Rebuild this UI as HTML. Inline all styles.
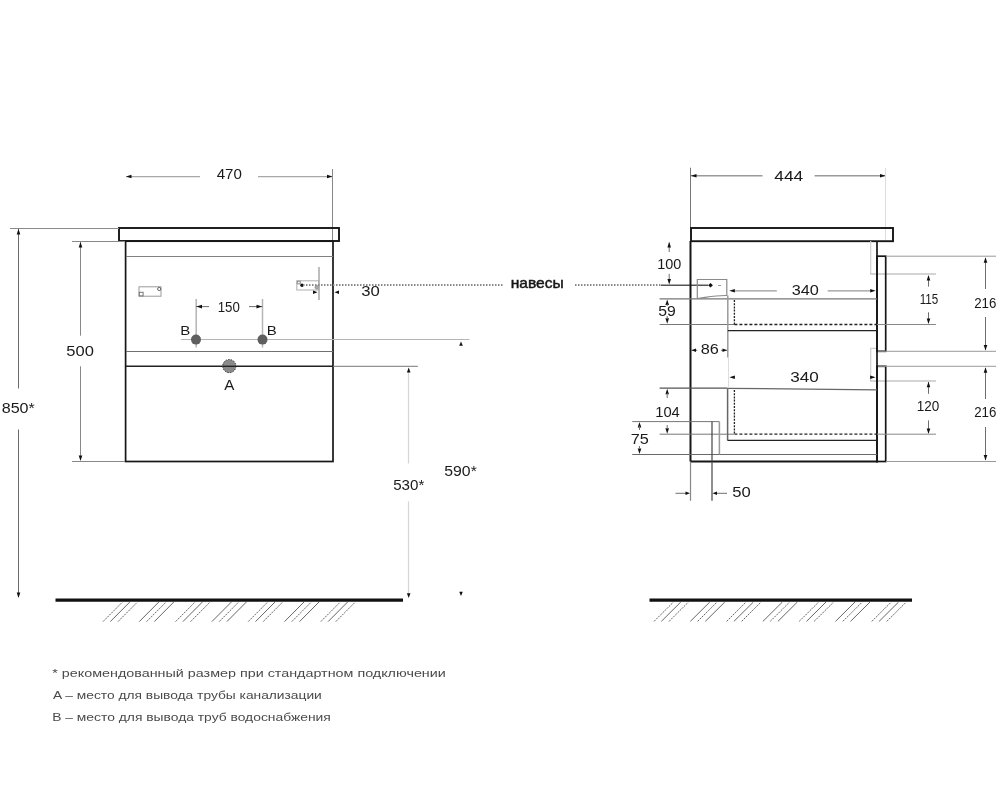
<!DOCTYPE html>
<html><head><meta charset="utf-8"><style>
html,body{margin:0;padding:0;background:#fff;width:1000px;height:793px;overflow:hidden}
svg{display:block;font-family:"Liberation Sans",sans-serif;will-change:transform}
</style></head><body>
<svg width="1000" height="793" viewBox="0 0 1000 793">
<rect x="0" y="0" width="1000" height="793" fill="#fff"/>
<line x1="126" y1="176.6" x2="200" y2="176.6" stroke="#a8a8a8" stroke-width="1.4" />
<line x1="258" y1="176.6" x2="332" y2="176.6" stroke="#a8a8a8" stroke-width="1.4" />
<polygon points="126.00,176.50 131.50,174.70 131.50,178.30" fill="#111"/>
<polygon points="332.50,176.50 327.00,174.70 327.00,178.30" fill="#111"/>
<line x1="332.5" y1="169" x2="332.5" y2="241" stroke="#888" stroke-width="1" />
<rect x="119" y="228" width="220" height="13" stroke="#161616" stroke-width="1.9" fill="none" />
<rect x="125.6" y="241.2" width="207.4" height="220.3" stroke="#161616" stroke-width="1.7" fill="none" />
<line x1="126" y1="256.5" x2="333" y2="256.5" stroke="#808080" stroke-width="1" />
<line x1="126" y1="351.5" x2="333" y2="351.5" stroke="#707070" stroke-width="1" />
<line x1="126" y1="366.3" x2="333" y2="366.3" stroke="#222" stroke-width="1.4" />
<line x1="10" y1="228.5" x2="119" y2="228.5" stroke="#8a8a8a" stroke-width="1" />
<line x1="18.5" y1="229" x2="18.5" y2="388.5" stroke="#6a6a6a" stroke-width="1" />
<line x1="18.5" y1="429.5" x2="18.5" y2="597" stroke="#6a6a6a" stroke-width="1" />
<polygon points="18.50,229.00 16.70,234.50 20.30,234.50" fill="#111"/>
<polygon points="18.50,598.00 16.70,592.50 20.30,592.50" fill="#111"/>
<line x1="72" y1="241.5" x2="125" y2="241.5" stroke="#888" stroke-width="1" />
<line x1="72" y1="461.5" x2="125" y2="461.5" stroke="#888" stroke-width="1" />
<line x1="80.5" y1="242" x2="80.5" y2="335.7" stroke="#888" stroke-width="1" />
<line x1="80.5" y1="366.3" x2="80.5" y2="460" stroke="#888" stroke-width="1" />
<polygon points="80.50,242.00 78.70,247.50 82.30,247.50" fill="#111"/>
<polygon points="80.50,461.00 78.70,455.50 82.30,455.50" fill="#111"/>
<rect x="139" y="286.8" width="22" height="9.4" stroke="#9a9a9a" stroke-width="1" fill="none" />
<circle cx="159.2" cy="289" r="1.6" fill="none" stroke="#666" stroke-width="1" />
<rect x="139.3" y="292.3" width="3.8" height="3.6" stroke="#777" stroke-width="1" fill="none" />
<rect x="296.8" y="280.8" width="22" height="9.2" stroke="#b0b0b0" stroke-width="1" fill="none" />
<rect x="297.3" y="281.3" width="3" height="2.5" stroke="#999" stroke-width="1.2" fill="none" />
<circle cx="302" cy="285.3" r="1.7" fill="#111" stroke="none" stroke-width="1" />
<circle cx="316.8" cy="287.3" r="1.8" fill="#aaa" stroke="#888" stroke-width="0.8" />
<line x1="319" y1="267" x2="319" y2="300" stroke="#a8a8a8" stroke-width="1.5" />
<line x1="303" y1="285" x2="503" y2="285" stroke="#8a8a8a" stroke-width="1.8" stroke-dasharray="1.5 1.5"/>
<line x1="575" y1="285" x2="661" y2="285" stroke="#8a8a8a" stroke-width="1.8" stroke-dasharray="1.5 1.5"/>
<line x1="661" y1="285.2" x2="708" y2="285.2" stroke="#555" stroke-width="1.4" />
<polygon points="317.50,292.20 313.00,290.50 313.00,293.90" fill="#111"/>
<polygon points="334.50,292.20 339.00,290.50 339.00,293.90" fill="#111"/>
<line x1="196.2" y1="299" x2="196.2" y2="347.5" stroke="#b4b4b4" stroke-width="1.5" />
<line x1="262.5" y1="299" x2="262.5" y2="347.5" stroke="#b4b4b4" stroke-width="1.5" />
<line x1="196" y1="306.6" x2="209" y2="306.6" stroke="#6e6e6e" stroke-width="1" />
<line x1="249" y1="306.6" x2="262.5" y2="306.6" stroke="#6e6e6e" stroke-width="1" />
<polygon points="196.50,306.60 202.00,304.80 202.00,308.40" fill="#111"/>
<polygon points="262.00,306.60 256.50,304.80 256.50,308.40" fill="#111"/>
<line x1="181" y1="339.5" x2="469.4" y2="339.5" stroke="#b5b5b5" stroke-width="1" />
<circle cx="196" cy="339.6" r="5" fill="#5f5f5f" stroke="none" stroke-width="1" />
<circle cx="262.5" cy="339.6" r="5" fill="#5f5f5f" stroke="none" stroke-width="1" />
<circle cx="229.3" cy="366.1" r="6.6" fill="#8a8a8a" stroke="#333" stroke-width="1" stroke-dasharray="1.5 1.2"/>
<line x1="222.7" y1="366.3" x2="235.9" y2="366.3" stroke="#222" stroke-width="1.4" />
<line x1="333" y1="366.3" x2="417.8" y2="366.3" stroke="#777" stroke-width="1" />
<line x1="408.5" y1="372" x2="408.5" y2="463.5" stroke="#d5d5d5" stroke-width="1.2" />
<line x1="408.5" y1="501.5" x2="408.5" y2="595" stroke="#d5d5d5" stroke-width="1.2" />
<polygon points="408.70,367.60 406.90,372.40 410.50,372.40" fill="#111"/>
<polygon points="408.70,598.00 406.90,593.20 410.50,593.20" fill="#111"/>
<polygon points="461.00,341.50 459.20,345.80 462.80,345.80" fill="#111"/>
<polygon points="461.00,596.00 459.20,591.70 462.80,591.70" fill="#111"/>
<line x1="55.5" y1="600.1" x2="403" y2="600.1" stroke="#111" stroke-width="3.4" />
<line x1="103.0" y1="621.6" x2="122.5" y2="602" stroke="#4a4a4a" stroke-width="0.85" stroke-dasharray="2 1"/>
<line x1="110.3" y1="621.6" x2="129.8" y2="602" stroke="#4a4a4a" stroke-width="0.85" />
<line x1="118.0" y1="621.6" x2="137.5" y2="602" stroke="#4a4a4a" stroke-width="0.85" stroke-dasharray="2 1"/>
<line x1="139.3" y1="621.6" x2="158.8" y2="602" stroke="#4a4a4a" stroke-width="0.85" />
<line x1="146.6" y1="621.6" x2="166.1" y2="602" stroke="#4a4a4a" stroke-width="0.85" stroke-dasharray="2 1"/>
<line x1="154.3" y1="621.6" x2="173.8" y2="602" stroke="#4a4a4a" stroke-width="0.85" />
<line x1="175.6" y1="621.6" x2="195.1" y2="602" stroke="#4a4a4a" stroke-width="0.85" stroke-dasharray="2 1"/>
<line x1="182.9" y1="621.6" x2="202.4" y2="602" stroke="#4a4a4a" stroke-width="0.85" />
<line x1="190.6" y1="621.6" x2="210.1" y2="602" stroke="#4a4a4a" stroke-width="0.85" stroke-dasharray="2 1"/>
<line x1="211.9" y1="621.6" x2="231.4" y2="602" stroke="#4a4a4a" stroke-width="0.85" />
<line x1="219.2" y1="621.6" x2="238.7" y2="602" stroke="#4a4a4a" stroke-width="0.85" stroke-dasharray="2 1"/>
<line x1="226.9" y1="621.6" x2="246.4" y2="602" stroke="#4a4a4a" stroke-width="0.85" />
<line x1="248.2" y1="621.6" x2="267.7" y2="602" stroke="#4a4a4a" stroke-width="0.85" stroke-dasharray="2 1"/>
<line x1="255.5" y1="621.6" x2="275.0" y2="602" stroke="#4a4a4a" stroke-width="0.85" />
<line x1="263.2" y1="621.6" x2="282.7" y2="602" stroke="#4a4a4a" stroke-width="0.85" stroke-dasharray="2 1"/>
<line x1="284.5" y1="621.6" x2="304.0" y2="602" stroke="#4a4a4a" stroke-width="0.85" />
<line x1="291.8" y1="621.6" x2="311.3" y2="602" stroke="#4a4a4a" stroke-width="0.85" stroke-dasharray="2 1"/>
<line x1="299.5" y1="621.6" x2="319.0" y2="602" stroke="#4a4a4a" stroke-width="0.85" />
<line x1="320.8" y1="621.6" x2="340.3" y2="602" stroke="#4a4a4a" stroke-width="0.85" stroke-dasharray="2 1"/>
<line x1="328.1" y1="621.6" x2="347.6" y2="602" stroke="#4a4a4a" stroke-width="0.85" />
<line x1="335.8" y1="621.6" x2="355.3" y2="602" stroke="#4a4a4a" stroke-width="0.85" stroke-dasharray="2 1"/>
<line x1="690.6" y1="175.8" x2="762.5" y2="175.8" stroke="#9a9a9a" stroke-width="1.5" />
<line x1="814.6" y1="175.8" x2="885.7" y2="175.8" stroke="#9a9a9a" stroke-width="1.5" />
<polygon points="691.00,175.80 696.50,174.00 696.50,177.60" fill="#111"/>
<polygon points="885.50,175.80 880.00,174.00 880.00,177.60" fill="#111"/>
<line x1="690.5" y1="167.7" x2="690.5" y2="228" stroke="#777" stroke-width="1" />
<line x1="885.5" y1="167.7" x2="885.5" y2="241" stroke="#ddd" stroke-width="1" />
<rect x="691" y="228" width="202" height="13.2" stroke="#161616" stroke-width="1.9" fill="none" />
<line x1="870.7" y1="241" x2="870.7" y2="274" stroke="#d0d0d0" stroke-width="1.2" />
<line x1="870.2" y1="274" x2="936" y2="274" stroke="#aaa" stroke-width="1.2" />
<polyline points="877,348.4 870.7,348.4 870.7,381" fill="none" stroke="#d0d0d0" stroke-width="1.2"/>
<line x1="870.2" y1="381" x2="936" y2="381" stroke="#aaa" stroke-width="1.2" />
<line x1="690.5" y1="241" x2="690.5" y2="461.5" stroke="#161616" stroke-width="2" />
<line x1="877" y1="241" x2="877" y2="462.3" stroke="#161616" stroke-width="1.7" />
<line x1="690.5" y1="461.5" x2="878" y2="461.5" stroke="#161616" stroke-width="1.8" />
<rect x="877" y="256.2" width="8.7" height="95.1" stroke="#161616" stroke-width="1.7" fill="none" />
<rect x="877" y="366.3" width="8.7" height="95.2" stroke="#161616" stroke-width="1.7" fill="none" />
<line x1="886" y1="256.2" x2="996" y2="256.2" stroke="#999" stroke-width="1" />
<line x1="878" y1="351.3" x2="996" y2="351.3" stroke="#999" stroke-width="1" />
<line x1="878" y1="366.3" x2="996" y2="366.3" stroke="#999" stroke-width="1" />
<line x1="886" y1="461.5" x2="996" y2="461.5" stroke="#999" stroke-width="1" />
<line x1="985.5" y1="258" x2="985.5" y2="289" stroke="#6e6e6e" stroke-width="1" />
<line x1="985.5" y1="317" x2="985.5" y2="350" stroke="#6e6e6e" stroke-width="1" />
<polygon points="985.50,257.20 983.70,262.70 987.30,262.70" fill="#111"/>
<polygon points="985.50,350.50 983.70,345.00 987.30,345.00" fill="#111"/>
<line x1="985.5" y1="368" x2="985.5" y2="399" stroke="#6e6e6e" stroke-width="1" />
<line x1="985.5" y1="427" x2="985.5" y2="460" stroke="#6e6e6e" stroke-width="1" />
<polygon points="985.50,367.30 983.70,372.80 987.30,372.80" fill="#111"/>
<polygon points="985.50,460.50 983.70,455.00 987.30,455.00" fill="#111"/>
<line x1="928.5" y1="276" x2="928.5" y2="286.6" stroke="#6e6e6e" stroke-width="1" />
<line x1="928.5" y1="312.3" x2="928.5" y2="323" stroke="#6e6e6e" stroke-width="1" />
<polygon points="928.50,275.00 926.70,280.50 930.30,280.50" fill="#111"/>
<polygon points="928.50,324.00 926.70,318.50 930.30,318.50" fill="#111"/>
<line x1="928.5" y1="382" x2="928.5" y2="393.8" stroke="#6e6e6e" stroke-width="1" />
<line x1="928.5" y1="420.4" x2="928.5" y2="433" stroke="#6e6e6e" stroke-width="1" />
<polygon points="928.50,381.80 926.70,387.30 930.30,387.30" fill="#111"/>
<polygon points="928.50,434.00 926.70,428.50 930.30,428.50" fill="#111"/>
<line x1="659.6" y1="298.8" x2="877" y2="298.8" stroke="#777" stroke-width="1.2" />
<line x1="659.6" y1="324.5" x2="734" y2="324.5" stroke="#777" stroke-width="1" />
<line x1="877" y1="324.5" x2="936" y2="324.5" stroke="#888" stroke-width="1" />
<line x1="659.6" y1="388.2" x2="727.6" y2="388.2" stroke="#555" stroke-width="1.2" />
<path d="M727.6 388.3 C 780 388.6, 830 389.4, 877 389.8" fill="none" stroke="#666" stroke-width="1.2"/>
<line x1="659.6" y1="434.2" x2="734" y2="434.2" stroke="#777" stroke-width="1" />
<line x1="877" y1="434.2" x2="936" y2="434.2" stroke="#888" stroke-width="1" />
<line x1="669.2" y1="252" x2="669.2" y2="242.5" stroke="#6e6e6e" stroke-width="1" />
<polygon points="669.20,242.00 667.40,247.50 671.00,247.50" fill="#111"/>
<line x1="669.2" y1="273.8" x2="669.2" y2="280" stroke="#6e6e6e" stroke-width="1" />
<polygon points="669.20,284.60 667.40,279.10 671.00,279.10" fill="#111"/>
<polygon points="667.20,299.50 665.40,305.00 669.00,305.00" fill="#111"/>
<line x1="667.2" y1="304" x2="667.2" y2="306" stroke="#6e6e6e" stroke-width="1" />
<polygon points="667.20,323.80 665.40,318.30 669.00,318.30" fill="#111"/>
<line x1="667.2" y1="316" x2="667.2" y2="319" stroke="#6e6e6e" stroke-width="1" />
<path d="M697.3 298.5 L697.3 279.5 L726.8 279.5 L726.8 295.5 C 715 295.2, 706 297.5, 697.3 298.5" fill="none" stroke="#8a8a8a" stroke-width="1.2"/>
<polygon points="710.5,282.9 712.9,285.25 710.5,287.6 708.1,285.25" fill="#111"/>
<line x1="718" y1="285.5" x2="721" y2="285.5" stroke="#999" stroke-width="1" />
<line x1="727.8" y1="295.5" x2="727.8" y2="357.5" stroke="#9a9a9a" stroke-width="1.5" />
<line x1="727.8" y1="330.6" x2="877" y2="330.6" stroke="#222" stroke-width="1.4" />
<line x1="734.4" y1="300" x2="734.4" y2="324.5" stroke="#222" stroke-width="1.3" stroke-dasharray="2 1.2"/>
<line x1="734.4" y1="324.5" x2="877" y2="324.5" stroke="#222" stroke-width="1.3" stroke-dasharray="3 2"/>
<line x1="734" y1="290.8" x2="776.8" y2="290.8" stroke="#999" stroke-width="1.3" />
<line x1="827.7" y1="290.8" x2="871" y2="290.8" stroke="#999" stroke-width="1.3" />
<polygon points="729.30,290.80 734.80,289.00 734.80,292.60" fill="#111"/>
<polygon points="875.70,290.80 870.20,289.00 870.20,292.60" fill="#111"/>
<line x1="691" y1="350.3" x2="697.3" y2="350.3" stroke="#6e6e6e" stroke-width="1" />
<polygon points="691.50,350.30 696.00,348.60 696.00,352.00" fill="#111"/>
<line x1="721" y1="350.3" x2="727" y2="350.3" stroke="#6e6e6e" stroke-width="1" />
<polygon points="727.00,350.30 722.50,348.60 722.50,352.00" fill="#111"/>
<line x1="728.5" y1="358" x2="728.5" y2="388" stroke="#ddd" stroke-width="1" />
<line x1="727.6" y1="388.5" x2="727.6" y2="440.5" stroke="#666" stroke-width="1.5" />
<line x1="734.4" y1="390" x2="734.4" y2="434.2" stroke="#222" stroke-width="1.3" stroke-dasharray="2 1.2"/>
<line x1="734.4" y1="434.2" x2="877" y2="434.2" stroke="#222" stroke-width="1.3" stroke-dasharray="3 2"/>
<line x1="727.6" y1="440.4" x2="877" y2="440.4" stroke="#222" stroke-width="1.4" />
<polygon points="729.40,377.20 734.90,375.40 734.90,379.00" fill="#111"/>
<polygon points="875.60,377.20 870.10,375.40 870.10,379.00" fill="#111"/>
<polygon points="667.20,388.80 665.40,394.30 669.00,394.30" fill="#111"/>
<line x1="667.2" y1="393" x2="667.2" y2="398" stroke="#6e6e6e" stroke-width="1" />
<polygon points="667.20,433.80 665.40,428.30 669.00,428.30" fill="#111"/>
<line x1="667.2" y1="425" x2="667.2" y2="429" stroke="#6e6e6e" stroke-width="1" />
<line x1="632.2" y1="421.6" x2="719.4" y2="421.6" stroke="#777" stroke-width="1" />
<line x1="632.2" y1="454.5" x2="877" y2="454.5" stroke="#6a6a6a" stroke-width="1" />
<line x1="719.4" y1="421.6" x2="719.4" y2="454.4" stroke="#999" stroke-width="1.5" />
<line x1="712" y1="421.6" x2="712" y2="500.8" stroke="#444" stroke-width="1.2" />
<polygon points="639.50,422.10 637.70,427.60 641.30,427.60" fill="#111"/>
<polygon points="639.50,454.00 637.70,448.50 641.30,448.50" fill="#111"/>
<line x1="639.5" y1="426" x2="639.5" y2="430" stroke="#6e6e6e" stroke-width="1" />
<line x1="639.5" y1="446" x2="639.5" y2="449" stroke="#6e6e6e" stroke-width="1" />
<line x1="690.5" y1="462" x2="690.5" y2="500.8" stroke="#888" stroke-width="1.2" />
<line x1="675.5" y1="493.3" x2="686" y2="493.3" stroke="#6e6e6e" stroke-width="1" />
<polygon points="690.00,493.30 685.50,491.60 685.50,495.00" fill="#111"/>
<line x1="717" y1="493.3" x2="727" y2="493.3" stroke="#6e6e6e" stroke-width="1" />
<polygon points="712.50,493.30 717.00,491.60 717.00,495.00" fill="#111"/>
<line x1="649.5" y1="600.1" x2="912" y2="600.1" stroke="#111" stroke-width="3.4" />
<line x1="654.0" y1="621.4" x2="673.5" y2="602" stroke="#4a4a4a" stroke-width="0.85" stroke-dasharray="2 1"/>
<line x1="661.3" y1="621.4" x2="680.8" y2="602" stroke="#4a4a4a" stroke-width="0.85" />
<line x1="669.0" y1="621.4" x2="688.5" y2="602" stroke="#4a4a4a" stroke-width="0.85" stroke-dasharray="2 1"/>
<line x1="690.3" y1="621.4" x2="709.8" y2="602" stroke="#4a4a4a" stroke-width="0.85" />
<line x1="697.6" y1="621.4" x2="717.1" y2="602" stroke="#4a4a4a" stroke-width="0.85" stroke-dasharray="2 1"/>
<line x1="705.3" y1="621.4" x2="724.8" y2="602" stroke="#4a4a4a" stroke-width="0.85" />
<line x1="726.6" y1="621.4" x2="746.1" y2="602" stroke="#4a4a4a" stroke-width="0.85" stroke-dasharray="2 1"/>
<line x1="733.9" y1="621.4" x2="753.4" y2="602" stroke="#4a4a4a" stroke-width="0.85" />
<line x1="741.6" y1="621.4" x2="761.1" y2="602" stroke="#4a4a4a" stroke-width="0.85" stroke-dasharray="2 1"/>
<line x1="762.9" y1="621.4" x2="782.4" y2="602" stroke="#4a4a4a" stroke-width="0.85" />
<line x1="770.2" y1="621.4" x2="789.7" y2="602" stroke="#4a4a4a" stroke-width="0.85" stroke-dasharray="2 1"/>
<line x1="777.9" y1="621.4" x2="797.4" y2="602" stroke="#4a4a4a" stroke-width="0.85" />
<line x1="799.2" y1="621.4" x2="818.7" y2="602" stroke="#4a4a4a" stroke-width="0.85" stroke-dasharray="2 1"/>
<line x1="806.5" y1="621.4" x2="826.0" y2="602" stroke="#4a4a4a" stroke-width="0.85" />
<line x1="814.2" y1="621.4" x2="833.7" y2="602" stroke="#4a4a4a" stroke-width="0.85" stroke-dasharray="2 1"/>
<line x1="835.5" y1="621.4" x2="855.0" y2="602" stroke="#4a4a4a" stroke-width="0.85" />
<line x1="842.8" y1="621.4" x2="862.3" y2="602" stroke="#4a4a4a" stroke-width="0.85" stroke-dasharray="2 1"/>
<line x1="850.5" y1="621.4" x2="870.0" y2="602" stroke="#4a4a4a" stroke-width="0.85" />
<line x1="871.8" y1="621.4" x2="891.3" y2="602" stroke="#4a4a4a" stroke-width="0.85" stroke-dasharray="2 1"/>
<line x1="879.1" y1="621.4" x2="898.6" y2="602" stroke="#4a4a4a" stroke-width="0.85" />
<line x1="886.8" y1="621.4" x2="906.3" y2="602" stroke="#4a4a4a" stroke-width="0.85" stroke-dasharray="2 1"/>
<g style="opacity:0.999">
<text x="216.66" y="179.04" font-size="14.00" textLength="25.18" lengthAdjust="spacingAndGlyphs" fill="#1a1a1a">470</text>
<text x="774.20" y="181.46" font-size="14.00" textLength="29.10" lengthAdjust="spacingAndGlyphs" fill="#1a1a1a">444</text>
<text x="66.28" y="355.58" font-size="14.00" textLength="27.56" lengthAdjust="spacingAndGlyphs" fill="#1a1a1a">500</text>
<text x="1.70" y="413.08" font-size="14.00" textLength="33.08" lengthAdjust="spacingAndGlyphs" fill="#1a1a1a">850*</text>
<text x="217.70" y="312.00" font-size="14.00" textLength="22.14" lengthAdjust="spacingAndGlyphs" fill="#1a1a1a">150</text>
<text x="180.24" y="334.92" font-size="11.92" textLength="10.06" lengthAdjust="spacingAndGlyphs" fill="#1a1a1a">B</text>
<text x="266.80" y="334.92" font-size="11.92" textLength="10.02" lengthAdjust="spacingAndGlyphs" fill="#1a1a1a">B</text>
<text x="224.20" y="389.50" font-size="14.43" textLength="10.14" lengthAdjust="spacingAndGlyphs" fill="#1a1a1a">A</text>
<text x="361.20" y="296.04" font-size="14.00" textLength="18.58" lengthAdjust="spacingAndGlyphs" fill="#1a1a1a">30</text>
<text x="510.70" y="287.96" font-size="14.60" textLength="53.10" lengthAdjust="spacingAndGlyphs" fill="#151515" stroke="#151515" stroke-width="0.45">навесы</text>
<text x="393.20" y="489.50" font-size="14.00" textLength="31.10" lengthAdjust="spacingAndGlyphs" fill="#1a1a1a">530*</text>
<text x="444.28" y="476.00" font-size="14.00" textLength="32.52" lengthAdjust="spacingAndGlyphs" fill="#1a1a1a">590*</text>
<text x="657.22" y="268.50" font-size="14.00" textLength="24.06" lengthAdjust="spacingAndGlyphs" fill="#1a1a1a">100</text>
<text x="658.28" y="315.96" font-size="14.00" textLength="17.52" lengthAdjust="spacingAndGlyphs" fill="#1a1a1a">59</text>
<text x="700.70" y="353.92" font-size="14.00" textLength="18.10" lengthAdjust="spacingAndGlyphs" fill="#1a1a1a">86</text>
<text x="655.22" y="417.00" font-size="14.00" textLength="24.60" lengthAdjust="spacingAndGlyphs" fill="#1a1a1a">104</text>
<text x="630.74" y="443.96" font-size="14.00" textLength="18.06" lengthAdjust="spacingAndGlyphs" fill="#1a1a1a">75</text>
<text x="732.28" y="496.96" font-size="14.00" textLength="18.52" lengthAdjust="spacingAndGlyphs" fill="#1a1a1a">50</text>
<text x="791.68" y="295.00" font-size="14.00" textLength="27.12" lengthAdjust="spacingAndGlyphs" fill="#1a1a1a">340</text>
<text x="790.24" y="382.00" font-size="14.00" textLength="28.54" lengthAdjust="spacingAndGlyphs" fill="#1a1a1a">340</text>
<text x="919.72" y="304.04" font-size="14.00" textLength="18.56" lengthAdjust="spacingAndGlyphs" fill="#1a1a1a">115</text>
<text x="916.78" y="411.08" font-size="14.00" textLength="22.54" lengthAdjust="spacingAndGlyphs" fill="#1a1a1a">120</text>
<text x="974.20" y="308.46" font-size="14.00" textLength="22.12" lengthAdjust="spacingAndGlyphs" fill="#1a1a1a">216</text>
<text x="974.20" y="417.00" font-size="14.00" textLength="22.12" lengthAdjust="spacingAndGlyphs" fill="#1a1a1a">216</text>
<text x="52.22" y="676.60" font-size="11.50" textLength="393.58" lengthAdjust="spacingAndGlyphs" fill="#4a4a4a">* рекомендованный размер при стандартном подключении</text>
<text x="53.12" y="698.80" font-size="11.50" textLength="268.68" lengthAdjust="spacingAndGlyphs" fill="#4a4a4a">A – место для вывода трубы канализации</text>
<text x="52.22" y="720.50" font-size="11.50" textLength="278.58" lengthAdjust="spacingAndGlyphs" fill="#4a4a4a">B – место для вывода труб водоснабжения</text>
</g>
</svg></body></html>
